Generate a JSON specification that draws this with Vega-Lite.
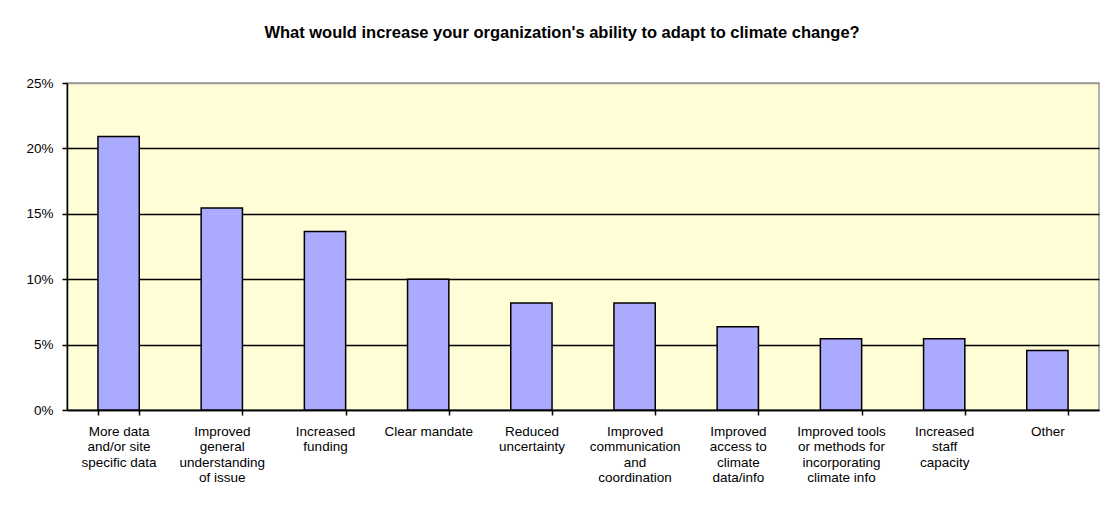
{
  "$schema": "https://vega.github.io/schema/vega-lite/v6.json",
  "autosize": {"type": "none"},
  "width": 1032,
  "height": 327,
  "padding": {"left": 67, "top": 83, "right": 10, "bottom": 98},
  "background": "white",
  "title": {
    "text": "What would increase your organization's ability  to adapt to climate change?",
    "font": "Liberation Sans",
    "fontSize": 16.5,
    "fontWeight": "bold",
    "color": "black",
    "anchor": "middle",
    "offset": 35,
    "dx": -21
  },
  "config": {
    "view": {"fill": "#FFFDD5", "stroke": "#999999", "strokeWidth": 1.5},
    "axis": {
      "labelFont": "Liberation Sans",
      "labelFontSize": 13.5,
      "labelColor": "black",
      "domainColor": "black",
      "domainWidth": 1.5,
      "tickColor": "black",
      "tickWidth": 1.5,
      "tickSize": 5,
      "title": null
    }
  },
  "data": {
    "values": [
      {"category": "More data|and/or site|specific data", "share": 0.2091},
      {"category": "Improved|general|understanding|of issue", "share": 0.1545},
      {"category": "Increased|funding", "share": 0.1364},
      {"category": "Clear mandate", "share": 0.1},
      {"category": "Reduced|uncertainty", "share": 0.0818},
      {"category": "Improved|communication|and|coordination", "share": 0.0818},
      {"category": "Improved|access to|climate|data/info", "share": 0.0636},
      {"category": "Improved tools|or methods for|incorporating|climate info", "share": 0.0545},
      {"category": "Increased|staff|capacity", "share": 0.0545},
      {"category": "Other", "share": 0.0455}
    ]
  },
  "mark": {"type": "bar", "fill": "#AAAAFF", "stroke": "black", "strokeWidth": 1.5},
  "encoding": {
    "x": {
      "field": "category",
      "type": "nominal",
      "sort": null,
      "scale": {"paddingInner": 0.6, "paddingOuter": 0.3},
      "axis": {
        "labelAngle": 0,
        "labelExpr": "split(datum.label, '|')",
        "labelLineHeight": 15.5,
        "labelPadding": 9,
        "labelBaseline": "top",
        "labelLimit": 0,
        "tickBand": "extent",
        "grid": false
      }
    },
    "y": {
      "field": "share",
      "type": "quantitative",
      "scale": {"domain": [0, 0.25], "nice": false},
      "axis": {
        "format": ".0%",
        "values": [0, 0.05, 0.1, 0.15, 0.2, 0.25],
        "labelPadding": 9,
        "grid": true,
        "gridColor": {"condition": {"test": "datum.value >= 0.25", "value": "#999999"}, "value": "black"},
        "gridWidth": 1.5
      }
    }
  }
}
